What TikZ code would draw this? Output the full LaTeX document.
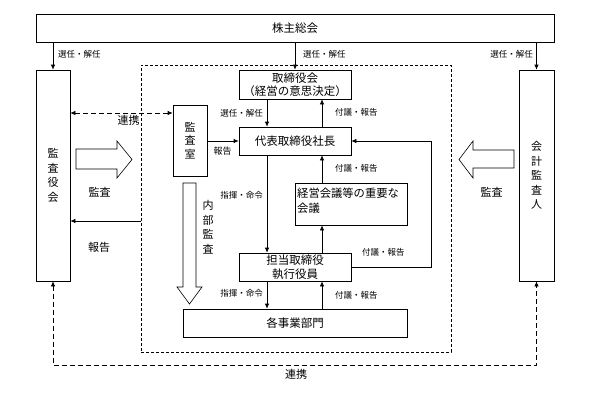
\documentclass[tikz,border=0pt]{standalone}
\usepackage{fontspec}
\setmainfont{Noto Sans CJK JP}
\usetikzlibrary{arrows.meta}
\tikzset{
  box/.style={draw, line width=0.7pt, inner sep=0pt, font=\fontsize{11.5}{14}\selectfont},
  vbox/.style={draw, line width=0.7pt, inner sep=0pt, align=center, font=\fontsize{11}{14.5}\selectfont},
  lbl/.style={inner sep=0pt, font=\fontsize{8.5}{10}\selectfont},
  big/.style={inner sep=0pt, font=\fontsize{11}{13}\selectfont},
  arr/.style={line width=0.7pt, -{Latex[length=5pt,width=4.5pt]}},
  darr/.style={line width=0.7pt, dash pattern=on 5pt off 3pt, {Latex[length=5pt,width=4.5pt]}-{Latex[length=5pt,width=4.5pt]}},
  hollow/.style={draw, line width=0.6pt, fill=white}
}
\begin{document}
\begin{tikzpicture}[x=1pt,y=-1pt]
\useasboundingbox (0,0) rectangle (590,394);
% group box
\node[draw, line width=0.6pt, dash pattern=on 3pt off 2pt, minimum width=310pt, minimum height=287pt, inner sep=0pt] (grp) at (296,208.5) {};
% boxes
\node[box, minimum width=518pt, minimum height=28pt] (sokai) at (295,28) {株主総会};
\node[vbox, minimum width=34pt, minimum height=211pt] (kansa) at (53,175.5) {監\\査\\役\\会};
\node[vbox, minimum width=35pt, minimum height=211pt] (kaikei) at (536.5,175.5) {会\\計\\監\\査\\人};
\node[box, align=center, minimum width=112pt, minimum height=29pt, font=\fontsize{11.5}{13}\selectfont] (tori) at (295,84.5) {取締役会\\（経営の意思決定）};
\node[box, minimum width=112pt, minimum height=28pt] (daihyo) at (295,141) {代表取締役社長};
\node[vbox, minimum width=34pt, minimum height=71pt, font=\fontsize{11}{13.5}\selectfont] (shitsu) at (190,140.5) {監\\査\\室};
\node[box, minimum width=112pt, minimum height=42pt] (keiei) at (351,204) {};
\node[inner sep=0pt, align=left, anchor=north west, font=\fontsize{11.3}{14.5}\selectfont] (keieit) at (297,188) {経営会議等の重要な\\会議};
\node[box, align=center, minimum width=112pt, minimum height=28pt, font=\fontsize{11.5}{13.5}\selectfont] (tanto) at (295,267) {担当取締役\\執行役員};
\node[box, minimum width=224pt, minimum height=28pt] (jigyo) at (295,323) {各事業部門};
% helper coordinates
\coordinate (lx) at (267,0);
\coordinate (cx) at (322,0);
\coordinate (rx) at (431,0);
\coordinate (r1) at (0,113);
\coordinate (r2) at (0,221);
\coordinate (bot) at (0,365);
% arrows from shareholders
\draw[arr] (sokai.south -| kansa) -- (kansa.north);
\draw[arr] (sokai.south -| tori) -- (tori.north);
\draw[arr] (sokai.south -| kaikei) -- (kaikei.north);
\node[lbl, anchor=west] (l1) at (58,54) {選任・解任};
\node[lbl, anchor=west] (l2) at (303,54) {選任・解任};
\node[lbl, anchor=east] (l3) at (533,54) {選任・解任};
% board <-> president
\draw[arr] (lx |- tori.south) -- (lx |- daihyo.north);
\draw[arr] (cx |- daihyo.north) -- (cx |- tori.south);
\node[lbl, anchor=east] (l4) at (263,113) {選任・解任};
\node[lbl, anchor=west] (l5) at (335,112) {付議・報告};
% audit office
\draw[arr] (shitsu.east |- daihyo) -- (daihyo.west);
\node[lbl, font=\fontsize{9}{10}\selectfont] (l6) at (222.5,151) {報告};
\draw[darr] (kansa.east |- r1) -- (shitsu.west |- r1);
\node[big] (l7) at (128.5,120) {連携};
% president -> tanto
\draw[arr] (lx |- daihyo.south) -- (lx |- tanto.north);
\node[lbl, anchor=east] (l8) at (263,195) {指揮・命令};
\draw[arr] (cx |- keiei.north) -- (cx |- daihyo.south);
\node[lbl, anchor=west] (l9) at (335,168) {付議・報告};
\draw[arr] (cx |- tanto.north) -- (cx |- keiei.south);
\draw[arr] (tanto.east) -- (tanto.east -| rx) |- (daihyo.east);
\node[lbl, anchor=west] (l10) at (362,252) {付議・報告};
% tanto <-> jigyo
\draw[arr] (lx |- tanto.south) -- (lx |- jigyo.north);
\node[lbl, anchor=east] (l11) at (263,293) {指揮・命令};
\draw[arr] (cx |- jigyo.north) -- (cx |- tanto.south);
\node[lbl, anchor=west] (l12) at (335,295) {付議・報告};
% report to auditors
\draw[arr] (grp.west |- r2) -- (kansa.east |- r2);
\node[big] (l13) at (99,247) {報告};
% hollow arrows
\draw[hollow] (76,149) -- (117,149) -- (117,141) -- (132,159.5) -- (117,178) -- (117,169) -- (76,169) -- cycle;
\node[big] (l14) at (99.5,192) {監査};
\draw[hollow] (514,150) -- (473,150) -- (473,141) -- (459,159.5) -- (473,178) -- (473,168) -- (514,168) -- cycle;
\node[big] (l15) at (491.5,192) {監査};
\draw[hollow] (183,183) -- (196,183) -- (196,287) -- (202,287) -- (189.5,304) -- (177,287) -- (183,287) -- cycle;
\node[inner sep=0pt, align=center, font=\fontsize{11}{14.5}\selectfont] (l16) at (208,227) {内\\部\\監\\査};
% bottom liaison
\draw[darr] (kansa.south) -- (kansa.south |- bot) -- (kaikei.south |- bot) -- (kaikei.south);
\node[big] (l17) at (296,374) {連携};
\end{tikzpicture}
\end{document}
